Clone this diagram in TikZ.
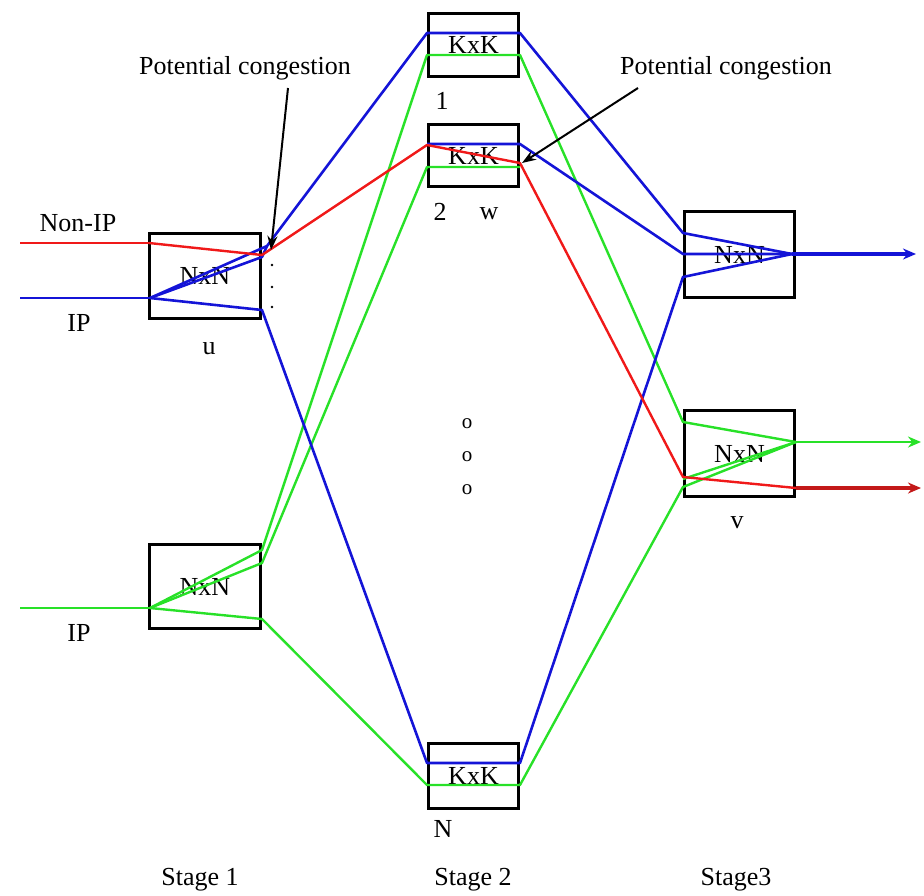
\documentclass[tikz,border=0pt]{standalone}
\usepackage{fontspec}
\setmainfont{Liberation Serif}
\usetikzlibrary{arrows.meta}
\definecolor{cblue}{RGB}{20,20,215}
\definecolor{cgreen}{RGB}{40,225,40}
\definecolor{cred}{RGB}{240,25,25}
\definecolor{cdred}{RGB}{195,25,25}
\begin{document}
\begin{tikzpicture}[x=1pt,y=-1pt,
  sw/.style={draw=black,line width=3.2pt,inner sep=0pt,font=\fontsize{26}{29}\selectfont},
  lbl/.style={inner sep=0pt,font=\fontsize{26}{29}\selectfont},
  bl/.style={draw=cblue,line width=2.6pt,line join=round},
  gl/.style={draw=cgreen,line width=2.4pt,line join=round},
  rl/.style={draw=cred,line width=2.4pt,line join=round},
  outarrow/.style={-{Stealth[length=13pt,width=11pt]}},
  callout/.style={draw=black,line width=2pt,-{Stealth[length=14pt,width=10pt]}},
  dotmark/.style={circle,fill=black,inner sep=0pt,minimum size=2.6pt},
]
\useasboundingbox (0,0) rectangle (924,895);

% ---------- boxes ----------
\node[sw,minimum width=111pt,minimum height=85pt] (u)  at (205,276)   {NxN};
\node[sw,minimum width=111pt,minimum height=84pt] (l1) at (205,586.5) {NxN};
\node[sw,minimum width=90pt,minimum height=63pt]  (k1) at (473.5,45)  {KxK};
\node[sw,minimum width=90pt,minimum height=62pt]  (k2) at (473.5,155.5) {KxK};
\node[sw,minimum width=90pt,minimum height=65pt]  (kn) at (473.5,776) {KxK};
\node[sw,minimum width=110pt,minimum height=86pt] (s3a) at (739.5,254.5) {NxN};
\node[sw,minimum width=110pt,minimum height=86pt] (v)  at (739.5,453.5) {NxN};

% ---------- labels ----------
\node[lbl] (tNonIP) at (78,223) {Non-IP};
\node[lbl] (tIP1) at (79,323) {IP};
\node[lbl] (tIP2) at (79,633) {IP};
\node[lbl] (tu) at (209,349) {u};
\node[lbl] (t1) at (442,101) {1};
\node[lbl] (t2) at (440,212) {2};
\node[lbl] (tw) at (489,214) {w};
\node[lbl] (tN) at (443,829) {N};
\node[lbl] (tv) at (737,523) {v};
\node[lbl] (tS1) at (200,880) {Stage 1};
\node[lbl] (tS2) at (473,880) {Stage 2};
\node[lbl] (tS3) at (736,880) {Stage3};
\node[lbl] (pc1) at (245,68) {Potential congestion};
\node[lbl] (pc2) at (726,68) {Potential congestion};
\node[lbl,font=\fontsize{21}{23}\selectfont] (o1) at (467,424) {o};
\node[lbl,font=\fontsize{21}{23}\selectfont] (o2) at (467,457) {o};
\node[lbl,font=\fontsize{21}{23}\selectfont] (o3) at (467,490) {o};
\node[dotmark] (d1) at (272,265) {};
\node[dotmark] (d2) at (272,287) {};
\node[dotmark] (d3) at (272,307) {};

% ---------- coordinates ----------
% stage 1, upper
\coordinate (nipIn) at (20,243);
\coordinate (uRin) at (149,243);
\coordinate (uRout) at (262,255);
\coordinate (ipIn) at (20,298);
\coordinate (uB) at (150,298);
\coordinate (uB1) at (267,246);
\coordinate (uB2) at (262,257);
\coordinate (uB3) at (262,310);
% stage 1, lower
\coordinate (gIn) at (20,608);
\coordinate (lG) at (150,608);
\coordinate (lG1) at (262,550);
\coordinate (lG2) at (262,563);
\coordinate (lG3) at (262,619);
% stage 2
\coordinate (k1Bl) at (427,33);  \coordinate (k1Br) at (520,33);
\coordinate (k1Gl) at (427,55);  \coordinate (k1Gr) at (520,55);
\coordinate (k2Bl) at (427,144); \coordinate (k2Br) at (520,144);
\coordinate (k2Gl) at (427,167); \coordinate (k2Gr) at (520,167);
\coordinate (k2Rl) at (427,145); \coordinate (k2Rr) at (520,163);
\coordinate (knBl) at (427,763); \coordinate (knBr) at (520,763);
\coordinate (knGl) at (427,785); \coordinate (knGr) at (520,785);
% stage 3
\coordinate (aB1) at (683,233);
\coordinate (aB2) at (683,254);
\coordinate (aB3) at (683,277);
\coordinate (aBo) at (792,254);
\coordinate (aEnd) at (916,254);
\coordinate (vG1) at (683,422);
\coordinate (vG2) at (683,479);
\coordinate (vG3) at (683,487);
\coordinate (vGo) at (796,442);
\coordinate (vGEnd) at (921,442);
\coordinate (vR) at (683,477);
\coordinate (vRo) at (796,488);
\coordinate (vREnd) at (921,488);
\coordinate (pc1s) at (288,88);
\coordinate (pc1e) at (271,250);
\coordinate (pc2s) at (638,88);
\coordinate (pc2e) at (522,163);

% ---------- green ----------
\draw[gl] (gIn) -- (lG);
\draw[gl] (lG) -- (lG1) -- (k1Gl) -- (k1Gr) -- (vG1) -- (vGo);
\draw[gl] (lG) -- (lG2) -- (k2Gl) -- (k2Gr);
\draw[gl] (lG) -- (lG3) -- (knGl) -- (knGr) -- (vG3) -- (vGo);
\draw[gl] (vG2) -- (vGo);
\draw[gl,outarrow] (vGo) -- (vGEnd);

% ---------- blue ----------
\draw[bl,line width=1.8pt] (ipIn) -- (uB);
\draw[bl] (uB) -- (uB1) -- (k1Bl) -- (k1Br) -- (aB1) -- (aBo);
\draw[bl] (uB) -- (uB2) -- (uB1);
\draw[bl] (uB) -- (uB3) -- (knBl) -- (knBr) -- (aB3) -- (aBo);
\draw[bl] (k2Bl) -- (k2Br) -- (aB2) -- (aBo);
\draw[bl,line width=3.4pt,outarrow] (aBo) -- (aEnd);

% ---------- red ----------
\draw[rl,line width=1.8pt] (nipIn) -- (uRin);
\draw[rl] (uRin) -- (uRout) -- (k2Rl) -- (k2Rr) -- (vR) -- (vRo);
\draw[draw=cdred,line width=3.4pt,outarrow] (vRo) -- (vREnd);

% ---------- callouts ----------
\draw[callout] (pc1s) -- (pc1e);
\draw[callout] (pc2s) -- (pc2e);
\end{tikzpicture}
\end{document}
